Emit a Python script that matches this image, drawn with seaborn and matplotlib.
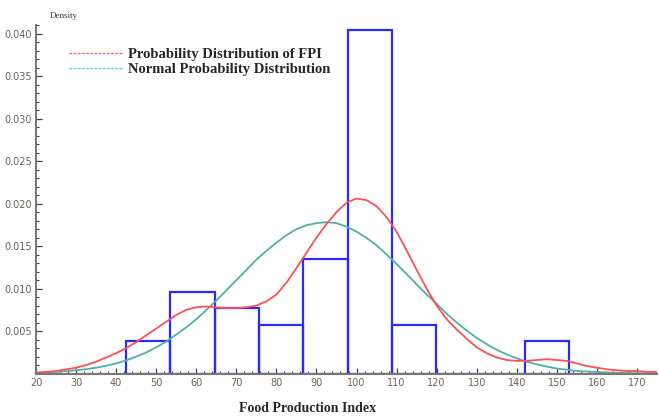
import numpy as np
import pandas as pd
import seaborn as sns
import matplotlib.pyplot as plt
from matplotlib.lines import Line2D
from matplotlib.ticker import MultipleLocator

# histogram of the Food Production Index (bin edges and counts)
bin_edges = [42.5, 53.55, 64.6, 75.65, 86.7, 97.75, 108.8, 119.85, 130.9, 141.95, 153.0]
bin_counts = [2, 5, 4, 3, 7, 21, 3, 0, 0, 2]

# curves, read every 2.5 units
curve_x = [20, 22.5, 25, 27.5, 30, 32.5, 35, 37.5, 40, 42.5, 45, 47.5, 50, 52.5,
           55, 57.5, 60, 62.5, 65, 67.5, 70, 72.5, 75, 77.5, 80, 82.5, 85, 87.5,
           90, 92.5, 95, 97.5, 100, 102.5, 105, 107.5, 110, 112.5, 115, 117.5,
           120, 122.5, 125, 127.5, 130, 132.5, 135, 137.5, 140, 142.5, 145, 147.5,
           150, 152.5, 155, 157.5, 160, 162.5, 165, 167.5, 170, 172.5, 175]
fpi_density = [0.0001, 0.0002, 0.0003, 0.0005, 0.0007, 0.0010, 0.0014, 0.0019,
               0.0024, 0.0030, 0.0037, 0.0045, 0.0053, 0.0061, 0.0069, 0.0075,
               0.0078, 0.0079, 0.0078, 0.0077, 0.0077, 0.0078, 0.0080, 0.0085,
               0.0093, 0.0107, 0.0124, 0.0142, 0.0160, 0.0176, 0.0190, 0.0201,
               0.0206, 0.0204, 0.0197, 0.0184, 0.0167, 0.0145, 0.0122, 0.0100,
               0.0080, 0.0064, 0.0052, 0.0041, 0.0031, 0.0024, 0.0019, 0.0016,
               0.0015, 0.0015, 0.0016, 0.0017, 0.0016, 0.0015, 0.0012, 0.0009,
               0.0007, 0.0005, 0.0004, 0.0003, 0.0003, 0.0002, 0.0002]
normal_density = [0.0001, 0.00014, 0.0002, 0.00028, 0.0004, 0.00052, 0.0007, 0.00092,
                  0.0012, 0.00155, 0.0020, 0.00248, 0.0031, 0.00376, 0.0046, 0.00544,
                  0.0064, 0.00748, 0.0086, 0.00979, 0.0110, 0.01219, 0.0134, 0.01444,
                  0.0154, 0.01628, 0.0170, 0.01745, 0.0177, 0.01781, 0.0177, 0.01728,
                  0.0167, 0.01596, 0.0151, 0.01402, 0.0129, 0.01171, 0.0105, 0.00932,
                  0.0082, 0.00705, 0.0060, 0.00507, 0.0042, 0.00347, 0.0028, 0.00226,
                  0.0018, 0.0014, 0.0011, 0.00083, 0.0006, 0.00046, 0.0003, 0.00025,
                  0.0002, 0.00013, 0.0001, 0.00006, 0.00004, 0.00003, 0.00002]

legend_labels = ["Probability Distribution of FPI", "Normal Probability Distribution"]

bin_mids = [(bin_edges[i] + bin_edges[i + 1]) / 2 for i in range(len(bin_counts))]
hist_df = pd.DataFrame({"fpi": bin_mids, "n": bin_counts})
curve_df = pd.DataFrame({"x": curve_x, "fpi": fpi_density, "normal": normal_density})

sns.set_style("white")
fig = plt.figure(figsize=(6.59, 4.17), dpi=100)
ax = fig.add_axes([0.0546, 0.104, 0.9424, 0.836])

sns.histplot(data=hist_df, x="fpi", weights="n", bins=bin_edges, stat="density",
             fill=False, element="bars", color="#2a2aff", linewidth=1.6, ax=ax)
sns.lineplot(data=curve_df, x="x", y="normal", color="#4fb0aa", linewidth=1.3, ax=ax)
sns.lineplot(data=curve_df, x="x", y="fpi", color="#ff5050", linewidth=1.3, ax=ax)

ax.set_xlim(20, 175)
ax.set_ylim(0, 0.041)
ax.set_xlabel("")
ax.set_ylabel("")

# Mathematica-like axes
for s in ["top", "right"]:
    ax.spines[s].set_visible(False)
for s in ["left", "bottom"]:
    ax.spines[s].set_color("#777777")
    ax.spines[s].set_linewidth(1.5)

ax.xaxis.set_major_locator(MultipleLocator(10))
ax.xaxis.set_minor_locator(MultipleLocator(2))
ax.yaxis.set_major_locator(MultipleLocator(0.005))
ax.yaxis.set_minor_locator(MultipleLocator(0.001))
ax.set_yticks([0.005, 0.010, 0.015, 0.020, 0.025, 0.030, 0.035, 0.040])
ax.set_yticklabels(["0.005", "0.010", "0.015", "0.020", "0.025", "0.030", "0.035", "0.040"])
ax.tick_params(which="major", direction="in", length=4, width=0.9, color="#444444",
               labelsize=7, labelcolor="#6a6255", pad=3)
ax.tick_params(which="minor", direction="in", length=2, width=0.8, color="#444444")
ax.tick_params(axis="x", which="both", bottom=True)
ax.tick_params(axis="y", which="both", left=True)

serif = ["Liberation Serif", "DejaVu Serif"]
fig.text(0.076, 0.958, "Density", fontsize=6.5, family=serif, color="#333333")
fig.text(0.467, 0.012, "Food Production Index", fontsize=10, family=serif,
         fontweight="bold", ha="center")

handles = [Line2D([], [], color="#ff6666", linewidth=1.0, linestyle=(0, (2, 1))),
           Line2D([], [], color="#66c8ee", linewidth=1.0, linestyle=(0, (2, 1)))]
ax.legend(handles, legend_labels, loc="upper left", bbox_to_anchor=(0.096, 0.899),
          bbox_transform=fig.transFigure, frameon=False, handlelength=3.7,
          handletextpad=0.35, labelspacing=0.12, borderaxespad=0,
          prop={"family": serif, "weight": "bold", "size": 10.5})

plt.savefig("out.png", dpi=100)
